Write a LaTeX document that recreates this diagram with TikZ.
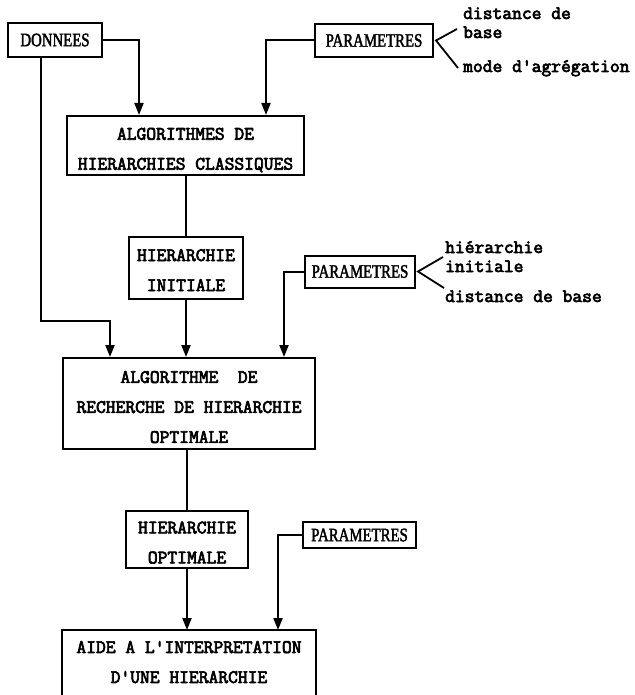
\documentclass[tikz,border=0pt]{standalone}
\usepackage{fontspec}
\usetikzlibrary{arrows.meta}
\newfontfamily\tymono[FakeBold=3.5]{Latin Modern Mono}
\newfontfamily\tyserif[FakeStretch=0.78,FakeBold=2]{Liberation Serif}
\newcommand\tyup[1]{\rule{0pt}{#1}}
\newcommand\tydn[1]{\rule[-#1]{0pt}{#1}}
\begin{document}
\begin{tikzpicture}[x=1pt,y=-1pt,
  box/.style={draw,line width=2pt,inner sep=0pt,align=center,
    font=\tymono\fontsize{19}{30}\selectfont},
  pbox/.style={draw,line width=2pt,inner sep=0pt,
    font=\tyserif\fontsize{19}{22}\selectfont},
  conn/.style={line width=2pt},
  arr/.style={conn,-{Triangle[width=9pt,length=12pt]}},
  brace/.style={line width=1.8pt},
  lab/.style={anchor=base west,inner sep=0pt,
    font=\tymono\fontsize{19}{20}\selectfont}]
\useasboundingbox (0,0) rectangle (634,695);

% boxes
\node[pbox,minimum width=94pt,minimum height=34pt] (don) at (55,40) {DONNEES};
\node[pbox,minimum width=118pt,minimum height=33pt] (par1) at (374,40.5) {PARAMETRES};
\node[box,minimum width=237pt,minimum height=59pt] (alg1) at (185.5,145.5)
  {\tyup{21pt}ALGORITHMES DE\\HIERARCHIES CLASSIQUES};
\node[box,minimum width=114pt,minimum height=62pt] (hi) at (186,268)
  {\tyup{16pt}HIERARCHIE\\INITIALE};
\node[pbox,minimum width=110pt,minimum height=32pt] (par2) at (360,271.5) {PARAMETRES};
\node[box,minimum width=252pt,minimum height=91pt] (alg2) at (189,403.5)
  {\tyup{19pt}ALGORITHME~~DE\\RECHERCHE DE HIERARCHIE\\OPTIMALE};
\node[box,minimum width=122pt,minimum height=57pt] (ho) at (187,539.5)
  {\tyup{18pt}HIERARCHIE\\OPTIMALE};
\node[pbox,minimum width=113pt,minimum height=26pt] (par3) at (359.5,535) {PARAMETRES};
\node[box,draw=none,minimum width=252pt,minimum height=66pt,anchor=north] (aide) at (189,630)
  {AIDE A L\textquotesingle INTERPRETATION\\D\textquotesingle UNE HIERARCHIE\tydn{4pt}};
\draw[conn] (aide.south west) -- (aide.north west) -- (aide.north east) -- (aide.south east);

% connectors
\draw[arr] (don.east) -| ([xshift=73pt]alg1.north west);
\draw[arr] (par1.west) -| ([xshift=-39pt]alg1.north east);
\draw[conn] (hi.north) -- (hi.north |- alg1.south);
\draw[arr] ([xshift=-14pt]don.south) -- ++(0,263) -| ([xshift=48pt]alg2.north west);
\draw[arr] (hi.south) -- (hi.south |- alg2.north);
\draw[arr] (par2.west) -| ([xshift=-32pt]alg2.north east);
\draw[conn] (ho.north) -- (ho.north |- alg2.south);
\draw[arr] (ho.south) -- (ho.south |- aide.north);
\draw[arr] (par3.west) -| ([xshift=-38pt]aide.north east);

% labels
\node[lab] (l1a) at (463,19) {distance de};
\node[lab] (l1b) at (463,38) {base};
\node[lab] (l1c) at (463,72) {mode d\textquotesingle agrégation};
\node[lab] (l2a) at (445,253) {hiérarchie};
\node[lab] (l2b) at (445,272) {initiale};
\node[lab] (l2c) at (445,302) {distance de base};

% brace strokes
\coordinate (v1) at ([xshift=2pt]par1.east);
\coordinate (e1a) at (457,29);
\coordinate (e1b) at (458,68);
\draw[brace] (e1a) -- (v1) -- (e1b);
\coordinate (v2) at ([xshift=2pt]par2.east);
\coordinate (e2a) at (443,257);
\coordinate (e2b) at (444,288);
\draw[brace] (e2a) -- (v2) -- (e2b);
\end{tikzpicture}
\end{document}
